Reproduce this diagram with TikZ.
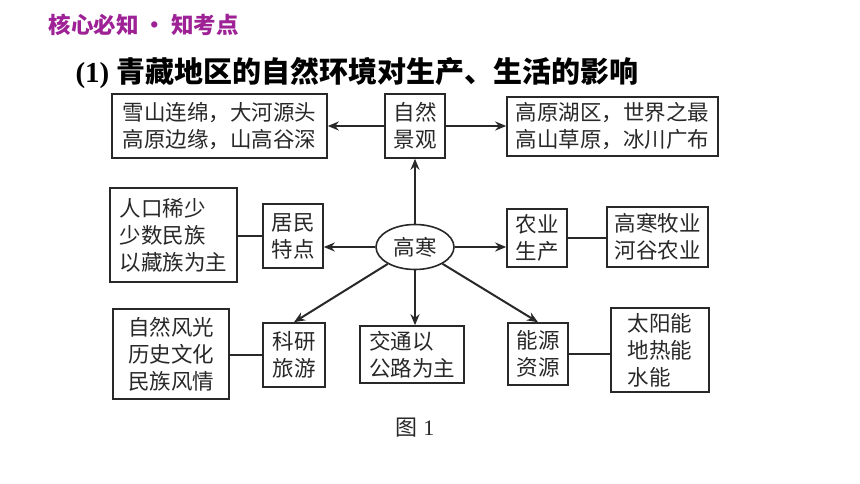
\documentclass[tikz,border=0pt]{standalone}
\usepackage{fontspec}
\setmainfont{Liberation Serif}
\newfontfamily\cjk{Noto Sans CJK SC}
\usetikzlibrary{arrows.meta,shapes.geometric}
\definecolor{hdr}{RGB}{158,34,150}
\definecolor{ink}{RGB}{40,40,40}
\begin{document}
\begin{tikzpicture}[x=1pt,y=-1pt,
  box/.style={draw=ink,line width=1.6pt,inner sep=0pt,align=left,
    font=\cjk\fontsize{21.5}{27}\selectfont,text=ink},
  ell/.style={draw=ink,line width=1.6pt,ellipse,inner sep=0pt,
    font=\cjk\fontsize{21.5}{27}\selectfont,text=ink},
  conn/.style={draw=ink,line width=2pt},
  arr/.style={conn,-{Stealth[length=11pt,width=9pt]}}]
\useasboundingbox[fill=white] (0,0) rectangle (860,484);
\node[anchor=west,text=hdr,font=\cjk\bfseries\fontsize{22.5}{25}\selectfont] (hd) at (45,25) {核心必知 • 知考点};
\node[anchor=west,text=black,font=\fontsize{29}{32}\selectfont] (tt) at (72,73) {\textbf{(1)} {\cjk\bfseries 青藏地区的自然环境对生产、生活的影响}};
% row 1
\node[box,minimum width=215,minimum height=64] (xs) at (219.5,126) {雪山连绵，大河源头\\高原边缘，山高谷深};
\node[box,minimum width=60,minimum height=64] (zr) at (415,126) {自然\\景观};
\node[box,minimum width=211,minimum height=59] (gy) at (612.5,126.5) {高原湖区，世界之最\\高山草原，冰川广布};
% row 2
\node[box,minimum width=127,minimum height=94] (rk) at (173.5,235) {人口稀少\\少数民族\\以藏族为主};
\node[box,minimum width=60,minimum height=64] (jm) at (293,236) {居民\\特点};
\node[ell,minimum width=78,minimum height=45] (gh0) at (415,247) {高寒};
\node[box,minimum width=60,minimum height=58] (ny) at (537,238) {农业\\生产};
\node[box,minimum width=101,minimum height=60] (gh) at (657.5,237) {高寒牧业\\河谷农业};
% row 3
\node[box,minimum width=116,minimum height=90] (zf) at (171,354) {自然风光\\历史文化\\民族风情};
\node[box,minimum width=62,minimum height=64] (ky) at (294,355) {科研\\旅游};
\node[box,minimum width=104,minimum height=57] (jt) at (412,354.5) {交通以\\公路为主};
\node[box,minimum width=60,minimum height=62] (nyz) at (538,354) {能源\\资源};
\node[box,minimum width=98,minimum height=84] (ty) at (660,350) {太阳能\\地热能\\水能};
% caption
\node[text=ink,font=\fontsize{22}{24}\selectfont] (cap) at (415,428) {{\cjk 图} 1};
% connectors
\draw[arr] (gh0.north) -- (zr.south);
\draw[arr] (zr.west) -- (zr.west -| xs.east);
\draw[arr] (zr.east) -- (zr.east -| gy.west);
\draw[arr] (gh0.west) -- (gh0.west -| jm.east);
\draw[arr] (gh0.east) -- (gh0.east -| ny.west);
\draw[arr] (gh0.south) -- (jt.north -| gh0.south);
\draw[arr] (gh0) -- (ky.north);
\draw[arr] (gh0) -- (nyz.north);
\draw[conn] (jm.west) -- (jm.west -| rk.east);
\draw[conn] (ny.east) -- (ny.east -| gh.west);
\draw[conn] (ky.west) -- (ky.west -| zf.east);
\draw[conn] (nyz.east) -- (nyz.east -| ty.west);
\end{tikzpicture}
\end{document}
